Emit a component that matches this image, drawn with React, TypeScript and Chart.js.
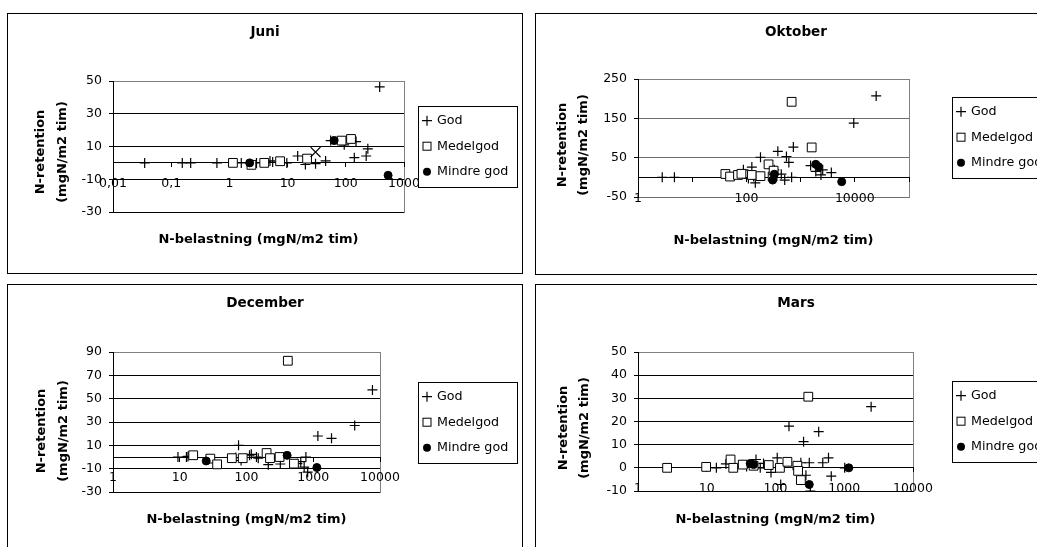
import React, { useEffect, useRef } from 'react';
import { Chart, registerables } from 'chart.js';

Chart.register(...registerables);

type Pt = [number, number];

// ---------------- data ----------------
const seriesLabels = ['God', 'Medelgod', 'Mindre god'];
const xAxisTitle = 'N-belastning (mgN/m2 tim)';
const yAxisTitle = ['N-retention', '(mgN/m2 tim)'];

// Juni
const juniGod: Pt[] = [
  [0.035, 0], [0.155, 0], [0.216, 0], [0.61, 0], [1.6, 0], [2.92, 0], [4.98, 1.2], [5.54, 0.5],
  [9.7, 0], [14.9, 4.2], [20.2, -1], [30.2, -0.5], [45, 1.2], [55, 13.6], [94, 11], [150, 13],
  [140, 3.2], [224, 4.2], [239, 8.6], [382, 46.4],
];
const juniMedelgod: Pt[] = [[1.15, 0], [2.39, -1.2], [3.97, 0], [7.43, 1], [21.6, 2.6], [84.5, 13.6], [123, 14.6]];
const juniMindreGod: Pt[] = [[2.23, 0], [63, 13.6], [533, -7.6]];
const juniOther: Pt[] = [[30.2, 6.6]];
const juniXTicks = [0.01, 0.1, 1, 10, 100, 1000];
const juniXLabels = ['0,01', '0,1', '1', '10', '100', '1000'];
const juniYRange = [-30, 50, 20];

// Oktober
const oktoberGod: Pt[] = [
  [2.8, 0], [4.7, 0], [88, 19], [109, -3], [126, 26], [136, 2], [146, -14], [182, 51], [328, 19],
  [380, 66], [440, 8], [509, -7], [548, 53], [607, 38], [683, 0], [735, 77], [1530, 30], [1905, 15],
  [2376, 6], [2557, 19], [3690, 12], [9570, 138], [24800, 207],
];
const oktoberMedelgod: Pt[] = [
  [40.9, 8.5], [50, 2], [70, 6], [81, 9], [126, 6], [182, 3], [256, 33], [305, 2], [318, 17], [683, 192], [1600, 76],
];
const oktoberMindreGod: Pt[] = [[305, -7], [328, 8], [1905, 33], [2140, 27], [5730, -11]];
const oktoberXTicks = [1, 10, 100, 1000, 10000, 100000];
const oktoberXLabels = ['1', '', '100', '', '10000', ''];
const oktoberYRange = [-50, 250, 100];

// December
const decemberGod: Pt[] = [
  [9.4, 0], [12.6, 0], [13.3, 0.5], [69, -0.5], [76, 10], [83, -3], [111, 1.5], [118, 2.3], [141, 0],
  [150, -1], [212, -6.6], [225, 0], [321, -6], [340, 0], [578, -5.7], [650, -4], [731, -8.6], [776, 0],
  [824, -13], [1173, 18], [1878, 16], [4180, 27], [7710, 57.5],
];
const decemberMedelgod: Pt[] = [
  [15.9, 1.5], [28.7, -1.4], [36.3, -6.3], [60.3, -1], [87.8, -1], [200, 3.4], [225, -1], [313, 0], [416, 82.5], [514, -5.7],
];
const decemberMindreGod: Pt[] = [[24.9, -3.4], [406, 1.4], [1132, -9]];
const decemberXTicks = [1, 10, 100, 1000, 10000];
const decemberXLabels = ['1', '10', '100', '1000', '10000'];
const decemberYRange = [-30, 90, 20];

// Mars
const marsGod: Pt[] = [
  [13.8, 0], [19, 1.7], [38, 0.6], [52, 3.6], [60, 0], [67, 1.9], [86, -2], [106, 4.3], [119, -7.2],
  [157, 18], [234, 2.2], [256, 11.3], [277, -3.2], [310, 2.2], [321, -10], [425, 15.6], [487, 2.2],
  [590, 4.3], [647, -3.6], [1016, 0], [2460, 26.4],
];
const marsMedelgod: Pt[] = [
  [2.65, 0], [9.8, 0.4], [22.2, 3.6], [24.3, 0], [33.4, 1.4], [48, 0.9], [79.8, 1.2], [116, 0], [149, 2.6],
  [208, 0.9], [213, -1.3], [234, -5.3], [300, 30.7],
];
const marsMindreGod: Pt[] = [[42.8, 1.9], [48, 1.4], [310, -7.2], [1164, 0]];
const marsXTicks = [1, 10, 100, 1000, 10000];
const marsXLabels = ['1', '10', '100', '1000', '10000'];
const marsYRange = [-10, 50, 10];

// ---------------- layout / style ----------------
const FONT = '"DejaVu Sans", "Liberation Sans", Arial, sans-serif';
const Y_W = 50;

interface Spec {
  title: string;
  series: Pt[][];
  other?: Pt[];
  xTicks: number[];
  xLabels: string[];
  yRange: number[];
  gridColor: string;
  frame: { x: number; y: number; w: number; h: number };
  plot: { l: number; t: number; r: number; b: number };
  titlePos: [number, number];
  xTitlePos: [number, number];
  yTitleX: [number, number];
  yTitleY: number;
  legendPos: [number, number];
}

const specs: Spec[] = [
  {
    title: 'Juni', series: [juniGod, juniMedelgod, juniMindreGod], other: juniOther,
    xTicks: juniXTicks, xLabels: juniXLabels, yRange: juniYRange, gridColor: '#000',
    frame: { x: 7, y: 13, w: 516, h: 261 },
    plot: { l: 105, t: 67, r: 396, b: 198 },
    titlePos: [257, 18], xTitlePos: [250.5, 226], yTitleX: [33, 54.5], yTitleY: 138, legendPos: [410, 92],
  },
  {
    title: 'Oktober', series: [oktoberGod, oktoberMedelgod, oktoberMindreGod],
    xTicks: oktoberXTicks, xLabels: oktoberXLabels, yRange: oktoberYRange, gridColor: '#6e6e6e',
    frame: { x: 535, y: 13, w: 516, h: 262 },
    plot: { l: 102, t: 65, r: 373, b: 183 },
    titlePos: [260, 18], xTitlePos: [237.5, 227], yTitleX: [27, 48], yTitleY: 131, legendPos: [416, 83],
  },
  {
    title: 'December', series: [decemberGod, decemberMedelgod, decemberMindreGod],
    xTicks: decemberXTicks, xLabels: decemberXLabels, yRange: decemberYRange, gridColor: '#000',
    frame: { x: 7, y: 284, w: 516, h: 300 },
    plot: { l: 105, t: 67, r: 372, b: 207 },
    titlePos: [257, 18], xTitlePos: [238.5, 235], yTitleX: [34, 56], yTitleY: 146, legendPos: [410, 97],
  },
  {
    title: 'Mars', series: [marsGod, marsMedelgod, marsMindreGod],
    xTicks: marsXTicks, xLabels: marsXLabels, yRange: marsYRange, gridColor: '#000',
    frame: { x: 535, y: 284, w: 516, h: 300 },
    plot: { l: 102, t: 67, r: 377, b: 206 },
    titlePos: [260, 18], xTitlePos: [239.5, 235], yTitleX: [28, 49], yTitleY: 143, legendPos: [416, 96],
  },
];

const MARKERS: any[] = [
  { pointStyle: 'cross', pointRadius: 5, pointBorderWidth: 1.2, pointBackgroundColor: '#000', pointBorderColor: '#000' },
  { pointStyle: 'rect', pointRadius: 6.2, pointBorderWidth: 1, pointBackgroundColor: '#fff', pointBorderColor: '#000' },
  { pointStyle: 'circle', pointRadius: 4, pointBorderWidth: 1, pointBackgroundColor: '#000', pointBorderColor: '#000' },
];

function drawLegendMarker(ctx: CanvasRenderingContext2D, i: number, x: number, y: number) {
  ctx.save();
  ctx.strokeStyle = '#000';
  ctx.fillStyle = '#000';
  ctx.lineWidth = 1.2;
  if (i === 0) {
    ctx.beginPath();
    ctx.moveTo(x - 5, y); ctx.lineTo(x + 5, y);
    ctx.moveTo(x, y - 5); ctx.lineTo(x, y + 5);
    ctx.stroke();
  } else if (i === 1) {
    ctx.lineWidth = 1;
    ctx.fillStyle = '#fff';
    ctx.fillRect(x - 4, y - 4, 8, 8);
    ctx.strokeRect(x - 4, y - 4, 8, 8);
  } else {
    ctx.beginPath();
    ctx.arc(x, y, 4, 0, Math.PI * 2);
    ctx.fill();
  }
  ctx.restore();
}

function decorPlugin(spec: Spec) {
  return {
    id: 'decor',
    beforeDraw(chart: any) {
      const { ctx, chartArea: a } = chart;
      ctx.save();
      ctx.fillStyle = '#fff';
      ctx.fillRect(0, 0, chart.width, chart.height);
      ctx.strokeStyle = '#808080';
      ctx.lineWidth = 1;
      const l = Math.round(a.left), t = Math.round(a.top), r = Math.round(a.right), b = Math.round(a.bottom);
      ctx.strokeRect(l + 0.5, t + 0.5, r - l, b - t);
      ctx.restore();
    },
    afterDraw(chart: any) {
      const ctx: CanvasRenderingContext2D = chart.ctx;
      ctx.save();
      ctx.fillStyle = '#000';
      ctx.textAlign = 'center';
      ctx.textBaseline = 'middle';
      ctx.font = `bold 13.6px ${FONT}`;
      ctx.fillText(spec.title, spec.titlePos[0], spec.titlePos[1]);
      ctx.font = `bold 13px ${FONT}`;
      ctx.fillText(xAxisTitle, spec.xTitlePos[0], spec.xTitlePos[1]);
      yAxisTitle.forEach((line, i) => {
        ctx.save();
        ctx.translate(spec.yTitleX[i], spec.yTitleY);
        ctx.rotate(-Math.PI / 2);
        ctx.fillText(line, 0, 0);
        ctx.restore();
      });
      const [lx, ly] = spec.legendPos;
      const lw = 99, lh = 81;
      ctx.fillStyle = '#fff';
      ctx.fillRect(lx, ly, lw, lh);
      ctx.strokeStyle = '#000';
      ctx.lineWidth = 1;
      ctx.strokeRect(lx + 0.5, ly + 0.5, lw, lh);
      seriesLabels.forEach((label, i) => {
        const cy = ly + 14.7 + i * 25.5;
        drawLegendMarker(ctx, i, lx + 9, cy);
        ctx.fillStyle = '#000';
        ctx.textAlign = 'left';
        ctx.font = `12.7px ${FONT}`;
        ctx.fillText(label, lx + 19, cy);
      });
      ctx.restore();
    },
  };
}

function buildConfig(spec: Spec): any {
  const [yMin, yMax, yStep] = spec.yRange;
  const cw = spec.frame.w - 2;
  const ch = spec.frame.h - 2;
  const datasets: any[] = spec.series.map((pts, i) => ({
    label: seriesLabels[i],
    data: pts.map(([x, y]) => ({ x, y })),
    order: 3 - i,
    ...MARKERS[i],
    pointHoverRadius: MARKERS[i].pointRadius,
  }));
  if (spec.other) {
    datasets.push({
      label: 'other',
      data: spec.other.map(([x, y]) => ({ x, y })),
      order: 0,
      pointStyle: 'crossRot',
      pointRadius: 7,
      pointHoverRadius: 7,
      pointBorderWidth: 1.2,
      pointBorderColor: '#000',
      pointBackgroundColor: '#000',
    });
  }
  const zeroPad = (scale: any) => {
    scale.paddingLeft = 0;
    scale.paddingRight = 0;
    scale.paddingTop = 0;
    scale.paddingBottom = 0;
  };
  return {
    type: 'scatter',
    data: { datasets },
    plugins: [decorPlugin(spec)],
    options: {
      animation: false,
      responsive: false,
      devicePixelRatio: 1,
      events: [],
      layout: {
        autoPadding: false,
        padding: {
          left: spec.plot.l - Y_W,
          top: spec.plot.t,
          right: cw - spec.plot.r,
          bottom: ch - spec.plot.b,
        },
      },
      plugins: { legend: { display: false }, title: { display: false }, tooltip: { enabled: false } },
      scales: {
        x: {
          type: 'logarithmic',
          min: spec.xTicks[0],
          max: spec.xTicks[spec.xTicks.length - 1],
          position: { y: 0 },
          afterBuildTicks: (scale: any) => {
            scale.ticks = spec.xTicks.map((v) => ({ value: v }));
          },
          afterFit: (scale: any) => {
            scale.height = 0;
            zeroPad(scale);
          },
          ticks: {
            callback: (_v: any, i: number) => spec.xLabels[i],
            autoSkip: false,
            maxRotation: 0,
            minRotation: 0,
            padding: 9.5,
            color: '#000',
            font: { family: FONT, size: 12.5 },
          },
          grid: { display: true, drawOnChartArea: false, drawTicks: true, tickLength: 4, color: '#000' },
          border: { display: true, color: '#000', width: 1 },
        },
        y: {
          type: 'linear',
          position: 'left',
          min: yMin,
          max: yMax,
          afterFit: (scale: any) => {
            scale.width = Y_W;
            zeroPad(scale);
          },
          ticks: { stepSize: yStep, padding: 7, color: '#000', font: { family: FONT, size: 12.5 } },
          grid: {
            color: (c: any) => (c.tick && c.tick.value === yMax ? '#808080' : spec.gridColor),
            tickColor: '#000',
            tickLength: 4,
            drawTicks: true,
            lineWidth: 1,
          },
          border: { display: true, color: '#000', width: 1 },
        },
      },
    },
  };
}

function Panel({ spec }: { spec: Spec }) {
  const ref = useRef<HTMLCanvasElement>(null);
  useEffect(() => {
    const canvas = ref.current;
    if (!canvas) return;
    const chart = new Chart(canvas, buildConfig(spec));
    return () => chart.destroy();
  }, [spec]);
  return (
    <div
      style={{
        position: 'absolute',
        left: spec.frame.x,
        top: spec.frame.y,
        width: spec.frame.w,
        height: spec.frame.h,
        border: '1px solid #000',
        boxSizing: 'border-box',
        background: '#fff',
      }}
    >
      <canvas ref={ref} width={spec.frame.w - 2} height={spec.frame.h - 2} style={{ display: 'block' }} />
    </div>
  );
}

export default function App() {
  return (
    <div
      style={{
        position: 'fixed',
        left: 0,
        top: 0,
        width: 1037,
        height: 547,
        overflow: 'hidden',
        background: '#fff',
      }}
    >
      {specs.map((s) => (
        <Panel key={s.title} spec={s} />
      ))}
    </div>
  );
}
